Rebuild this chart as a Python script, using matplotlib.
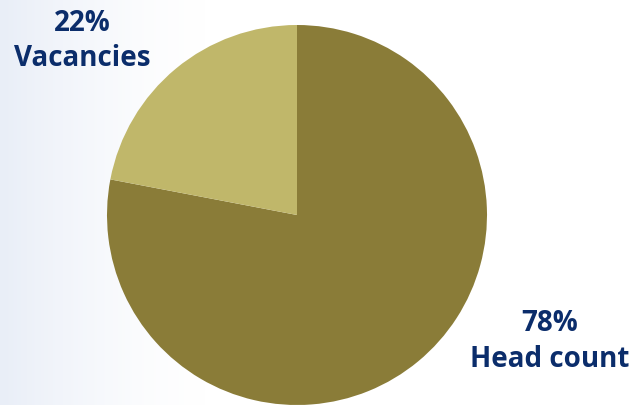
import numpy as np
import matplotlib
matplotlib.use('Agg')
from matplotlib import pyplot as plt

# data
labels = ['Head count', 'Vacancies']
shares = [78, 22]
colors = ['#8a7c38', '#c0b76a']

W, H = 637, 405
fig = plt.figure(figsize=(W / 100, H / 100), dpi=100)
ax = fig.add_axes([0, 0, 1, 1])

## faint blue wash on the left side
grad = np.linspace(0, 1, 256)
alpha = np.clip(1 - grad / 0.33, 0, 1) ** 1.5
bg = np.ones((1, 256, 4))
bg[..., 0] = 0.90
bg[..., 1] = 0.925
bg[..., 2] = 0.965
bg[..., 3] = alpha * 0.85
ax.imshow(bg, extent=(0, W, 0, H), aspect='auto', zorder=0)

cx, cy, r = 297, H - 215, 190
ax.pie(shares, colors=colors, startangle=90, counterclock=False,
       center=(cx, cy), radius=r, frame=True,
       wedgeprops=dict(linewidth=0))
ax.set_xlim(0, W)
ax.set_ylim(0, H)
ax.set_aspect('equal')
ax.axis('off')

txt = dict(color='#0b2d6b', fontsize=20, fontweight='bold',
           family=['Open Sans', 'DejaVu Sans'], ha='center', va='baseline')
ax.text(550, H - 331, f'{shares[0]}%', **txt)
ax.text(550, H - 367, labels[0], **txt)
ax.text(82, H - 31, f'{shares[1]}%', **txt)
ax.text(82, H - 66, labels[1], **txt)

fig.savefig('out.png', dpi=100)
